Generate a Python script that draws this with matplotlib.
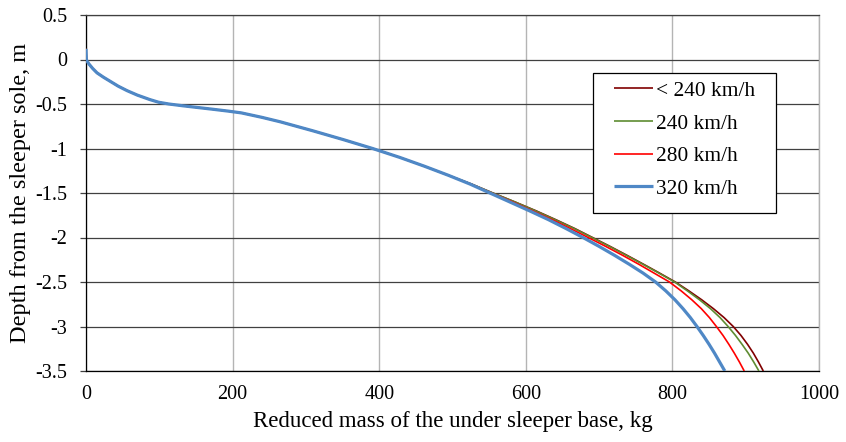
import matplotlib
matplotlib.use("Agg")
import matplotlib.pyplot as plt
from matplotlib.ticker import FuncFormatter, MultipleLocator
from matplotlib.patches import Rectangle

plt.rcParams['font.family'] = ['Liberation Serif', 'DejaVu Serif']
plt.rcParams['axes.unicode_minus'] = False

depth = [0.12, 0.0, -0.02, -0.05, -0.1, -0.15, -0.2, -0.25, -0.3, -0.35, -0.4,
         -0.45, -0.48, -0.5, -0.52, -0.54, -0.56, -0.58, -0.6, -0.65, -0.7,
         -0.8, -0.9, -1.0, -1.1, -1.2, -1.3,
         -1.4, -1.5, -1.6, -1.7, -1.8, -1.9, -2.0, -2.1, -2.2, -2.3, -2.4,
         -2.5, -2.6, -2.7, -2.8, -2.9, -3.0, -3.1, -3.2, -3.3, -3.4, -3.5]

common = [0, 0.5, 1.5, 4, 9, 15, 24, 34, 44, 56, 70,
          87, 99, 113, 132, 153, 174, 194, 212, 240, 265,
          309, 351, 391, 428, 462, 494]

mass_lt240 = common + [526, 555, 585, 614, 641, 667, 691, 715, 738, 760.5, 782.5,
                       804, 822.5, 840, 856, 870.5, 883, 893.5, 902.5, 910.5, 917.5, 924]
mass_240 = common + [526, 555, 585, 613, 640, 666, 690, 714, 737, 759.5, 781.5,
                     803, 820.5, 837, 852, 865, 876, 886, 895, 903.5, 911, 918]
mass_280 = common + [525, 553, 582, 609, 636, 661, 685, 709, 732, 754, 775,
                     796, 812, 826.5, 839.5, 850.5, 860, 869, 877, 884.5, 891.5, 898]
mass_320 = common + [524, 551, 578, 605, 631, 655, 678, 700, 721, 741, 760,
                     777, 791, 803.5, 814.5, 824.5, 833.5, 842, 850, 857.5, 864.5, 871.5]

labels = ['< 240 km/h', '240 km/h', '280 km/h', '320 km/h']
series = [mass_lt240, mass_240, mass_280, mass_320]
colors = ['#800000', '#5e8c31', '#ff0000', '#4f88c6']
widths = [1.2, 1.2, 1.2, 2.3]

fig = plt.figure(figsize=(8.46, 4.42), dpi=100)
ax = fig.add_axes([86/846, 1-371/442, 733/846, 356/442])

for m, lab, c, w in zip(series, labels, colors, widths):
    ax.plot(m, depth, color=c, lw=w, label=lab, solid_capstyle='butt',
            solid_joinstyle='round', zorder=3)

ax.set_xlim(0, 1000)
ax.set_ylim(-3.5, 0.5)
ax.xaxis.set_major_locator(MultipleLocator(200))
ax.yaxis.set_major_locator(MultipleLocator(0.5))
ax.yaxis.set_major_formatter(FuncFormatter(lambda v, p: '%g' % round(v, 2) if abs(v) > 1e-9 else '0'))

ax.grid(axis='x', color='#b4b4b4', lw=1.0, zorder=1)
ax.grid(axis='y', color='#404040', lw=0.9, zorder=1)
ax.set_axisbelow(True)

for s in ['left', 'bottom']:
    ax.spines[s].set_color('black')
    ax.spines[s].set_linewidth(0.9)
ax.spines['right'].set_color('#b4b4b4')
ax.spines['right'].set_linewidth(1.0)
ax.spines['top'].set_color('#404040')
ax.spines['top'].set_linewidth(0.9)

ax.tick_params(axis='y', length=4.5, width=0.9, color='#404040', pad=9, labelsize=14.5)
ax.tick_params(axis='x', length=0, pad=10, labelsize=14.5)

ax.set_xlabel('Reduced mass of the under sleeper base, kg', fontsize=16.5, labelpad=5)
ax.set_ylabel('Depth from the sleeper sole, m', fontsize=17.5, labelpad=3)

# legend frame
ax.add_patch(Rectangle(((593-86)/733, (371-213)/356), (776-593)/733, (213-73)/356,
                       transform=ax.transAxes, facecolor='white', edgecolor='black',
                       lw=0.9, zorder=4))
leg = ax.legend(loc='upper left', bbox_to_anchor=((614-86)/733, (371-81)/356),
                borderaxespad=0, borderpad=0, fontsize=15.4, frameon=False,
                handlelength=1.82, handletextpad=0.15, labelspacing=0.59)
leg.set_zorder(5)

fig.savefig('out.png', dpi=100)
